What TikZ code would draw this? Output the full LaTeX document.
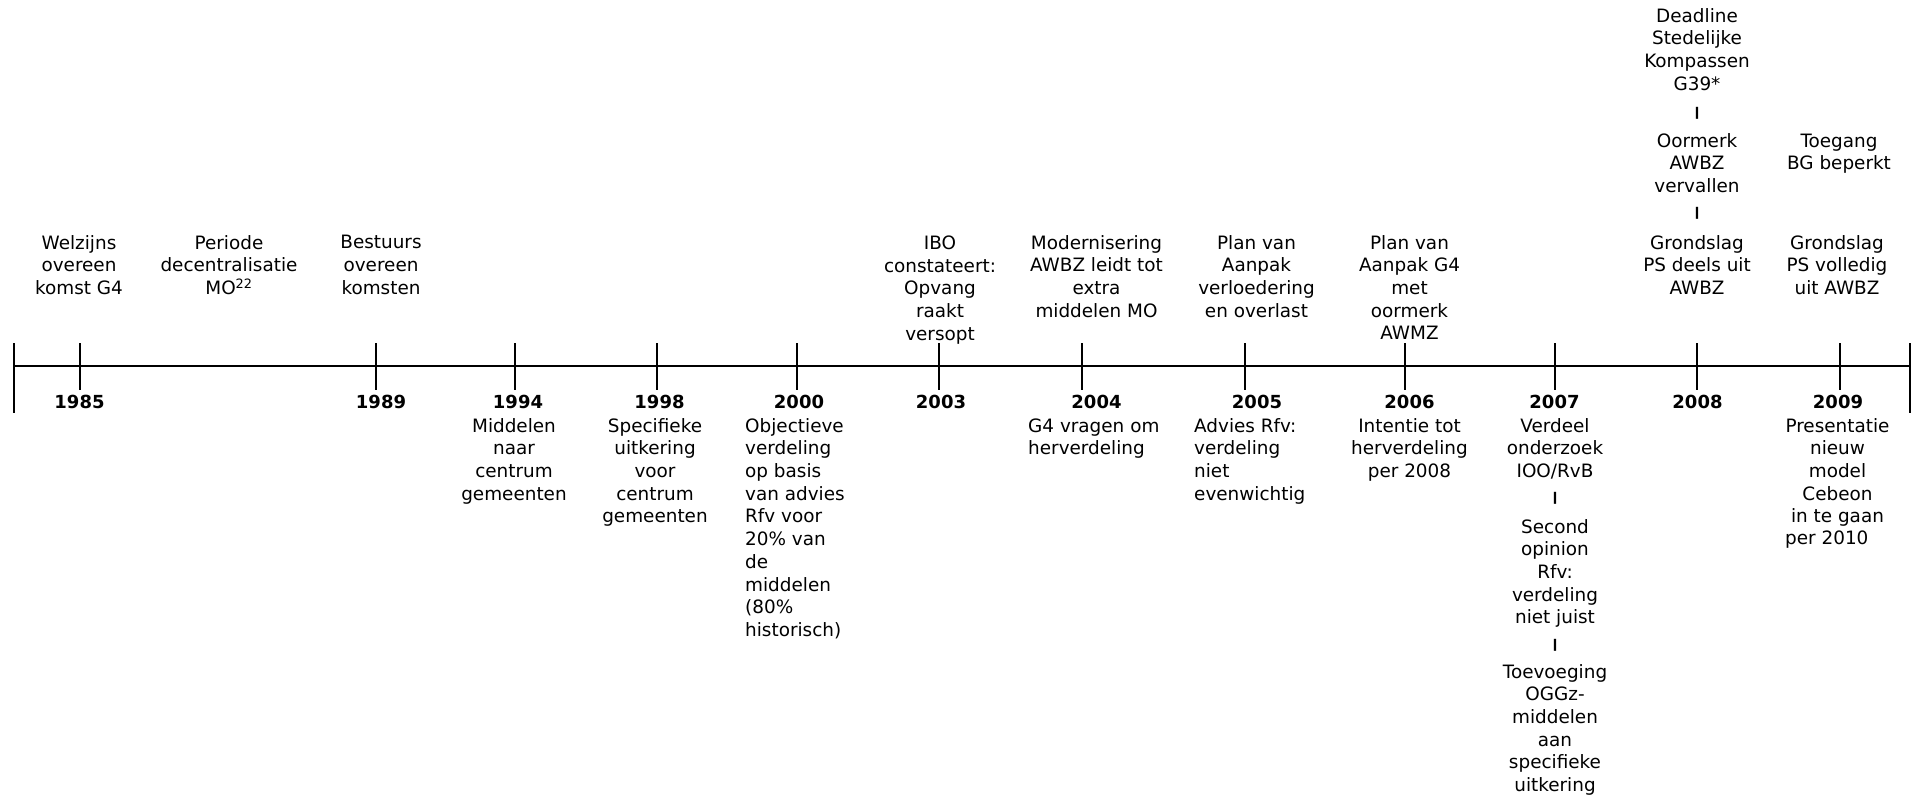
\documentclass[tikz,border=0pt]{standalone}
\usepackage{fontspec}
\setmainfont{DejaVu Sans}
\begin{document}
\begin{tikzpicture}[x=1pt,y=-1pt,
  txt/.style={font=\fontsize{18.4}{22.7}\selectfont, align=center, inner sep=0pt, anchor=north},
  ltxt/.style={txt, align=left, anchor=north west},
  yearlabel/.style={font=\fontsize{18}{22.7}\selectfont\bfseries, inner sep=0pt, anchor=base},
  sepbar/.style={font=\fontsize{12}{12}\selectfont\bfseries, inner sep=0pt, anchor=north},
  axisline/.style={line width=2pt},
  tickline/.style={line width=2pt}]
\useasboundingbox (0,0) rectangle (1912,798);

% timeline axis with end stops
\coordinate (axisstart) at (14,365.7);
\coordinate (axisend) at (1910,365.7);
\draw[axisline] (axisstart) -- (axisend);
\draw[tickline] ([yshift=22.7pt]axisstart) -- ([yshift=-47.3pt]axisstart);
\draw[tickline] ([yshift=22.7pt]axisend) -- ([yshift=-47.3pt]axisend);

% year ticks
\foreach \yr/\x in {1985/80,1989/376,1994/515,1998/657,2000/797,2003/939,
                    2004/1082,2005/1245,2006/1405,2007/1555,2008/1697,2009/1840}{
  \coordinate (t\yr) at (\x,365.7);
  \draw[tickline] ([yshift=22.7pt]t\yr) -- ([yshift=-24.3pt]t\yr);
}

% year labels
\node[yearlabel] (y1985) at (79.5,408) {1985};
\node[yearlabel] (y1989) at (381,408) {1989};
\node[yearlabel] (y1994) at (518,408) {1994};
\node[yearlabel] (y1998) at (659.5,408) {1998};
\node[yearlabel] (y2000) at (799,408) {2000};
\node[yearlabel] (y2003) at (941,408) {2003};
\node[yearlabel] (y2004) at (1096.5,408) {2004};
\node[yearlabel] (y2005) at (1257,408) {2005};
\node[yearlabel] (y2006) at (1409.5,408) {2006};
\node[yearlabel] (y2007) at (1554.5,408) {2007};
\node[yearlabel] (y2008) at (1697.5,408) {2008};
\node[yearlabel] (y2009) at (1838,408) {2009};

% events above the axis
\node[txt] (welzijn) at (79,235) {Welzijns\\overeen\\komst G4};
\node[txt] (periode) at (229,235) {Periode\\decentralisatie\\MO\textsuperscript{22}};
\node[txt] (bestuur) at (381,235) {Bestuurs\\overeen\\komsten};
\node[txt] (ibo) at (940,235.6) {IBO\\constateert:\\Opvang\\raakt\\versopt};
\node[txt] (modern) at (1096.5,235) {Modernisering\\AWBZ leidt tot\\extra\\middelen MO};
\node[txt] (planverl) at (1256.5,235) {Plan van\\Aanpak\\verloedering\\en overlast};
\node[txt] (plang4) at (1409.5,235) {Plan van\\Aanpak G4\\met\\oormerk\\AWMZ};
\node[txt] (deadline) at (1697,8) {Deadline\\Stedelijke\\Kompassen\\G39*};
\node[sepbar] (sepa) at (1697,107) {\scalebox{1.7}[1]{|}};
\node[txt] (oormerk) at (1697,133) {Oormerk\\AWBZ\\vervallen};
\node[sepbar] (sepb) at (1697,207) {\scalebox{1.7}[1]{|}};
\node[txt] (grond8) at (1697,235) {Grondslag\\PS deels uit\\AWBZ};
\node[txt] (toegang) at (1839,133.4) {Toegang\\BG beperkt};
\node[txt] (grond9) at (1837,235) {Grondslag\\PS volledig\\uit AWBZ};

% events below the axis
\node[txt] (middelen) at (514,418) {Middelen\\naar\\centrum\\gemeenten};
\node[txt] (specifiek) at (655,418) {Specifieke\\uitkering\\voor\\centrum\\gemeenten};
\node[ltxt] (objectief) at (745,418) {Objectieve\\verdeling\\op basis\\van advies\\Rfv voor\\20\% van\\de\\middelen\\(80\%\\historisch)};
\node[ltxt] (g4vragen) at (1028,418.4) {G4 vragen om\\herverdeling};
\node[ltxt] (advies) at (1194,418) {Advies Rfv:\\verdeling\\niet\\evenwichtig};
\node[txt] (intentie) at (1409.5,418) {Intentie tot\\herverdeling\\per 2008};
\node[txt] (verdeel) at (1555,418) {Verdeel\\onderzoek\\IOO/RvB};
\node[sepbar] (sepc) at (1555,492) {\scalebox{1.7}[1]{|}};
\node[txt] (second) at (1555,519) {Second\\opinion\\Rfv:\\verdeling\\niet juist};
\node[sepbar] (sepd) at (1555,639) {\scalebox{1.7}[1]{|}};
\node[txt] (toevoeg) at (1555,664) {Toevoeging\\OGGz-\\middelen\\aan\\specifieke\\uitkering};
\node[txt] (presentatie) at (1837.5,418) {Presentatie\\nieuw\\model\\Cebeon\\in te gaan};
\node[anchor=base west, inner sep=0pt, font=\fontsize{18.4}{22.7}\selectfont] (per2010) at (1785,544) {per 2010};
\end{tikzpicture}
\end{document}
